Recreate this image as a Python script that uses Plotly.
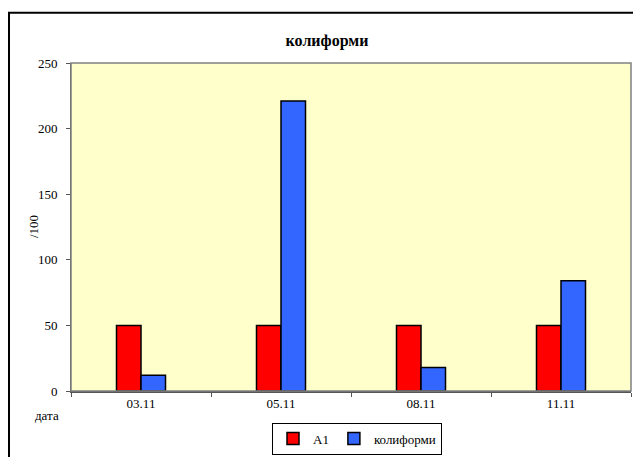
import plotly.graph_objects as go

dates = ["03.11", "05.11", "08.11", "11.11"]
a1 = [50, 50, 50, 50]
koliformi = [12, 221, 18, 84]

serif = "Liberation Serif"

W, H = 633, 457
L, R, T, B = 71, 2, 63, 61
pw, ph = W - L - R, H - T - B


def px(x):
    return (x - L) / pw


def py(y):
    return (H - B - y) / ph


fig = go.Figure()
fig.add_trace(go.Bar(name="A1", x=dates, y=a1,
                     marker=dict(color="#FF0000", line=dict(color="black", width=1.5))))
fig.add_trace(go.Bar(name="колиформи", x=dates, y=koliformi,
                     marker=dict(color="#3366FF", line=dict(color="black", width=1.5))))

fig.update_layout(
    width=W, height=H,
    margin=dict(l=L, r=R, t=T, b=B),
    paper_bgcolor="white", plot_bgcolor="#FFFFCC",
    font=dict(family=serif, size=13, color="black"),
    barmode="group", bargap=0.65, bargroupgap=0,
    title=dict(text="<b>колиформи</b>", x=327 / W, xanchor="center",
               y=1 - 40 / H, yanchor="middle", font=dict(size=16)),
    showlegend=True,
    legend=dict(orientation="h", x=px(357), xanchor="center", y=py(428), yanchor="top",
                bordercolor="black", borderwidth=1, bgcolor="white",
                font=dict(size=13), itemwidth=30, tracegroupgap=0),
)

fig.update_xaxes(showline=True, linecolor="#555555", linewidth=1.5,
                 ticks="outside", tickson="boundaries", ticklen=4, tickcolor="#555555",
                 showgrid=False)
fig.update_yaxes(range=[0, 250], dtick=50, showline=True, linecolor="#555555", linewidth=1,
                 ticks="outside", ticklen=4, tickcolor="#555555", showgrid=False,
                 zeroline=False, ticklabelstandoff=6)

# gray plot border
fig.add_shape(type="rect", xref="paper", yref="paper", x0=0, y0=0, x1=1, y1=1,
              line=dict(color="#808080", width=1.5), layer="above")
# outer chart frame
fig.add_shape(type="rect", xref="paper", yref="paper", x0=px(9), y0=-0.4, x1=1.1, y1=py(12),
              line=dict(color="black", width=2))

fig.add_annotation(text="/100", xref="paper", yref="paper", x=px(33), y=0.5,
                   xanchor="center", yanchor="middle",
                   textangle=-90, showarrow=False, font=dict(size=13))
fig.add_annotation(text="дата", xref="paper", yref="paper", x=px(47), y=py(421),
                   xanchor="center", yanchor="middle", showarrow=False, font=dict(size=13))

fig.write_html("out.html", config={"displayModeBar": False},
               post_script="document.body.style.margin='0';document.body.style.overflow='hidden';")
